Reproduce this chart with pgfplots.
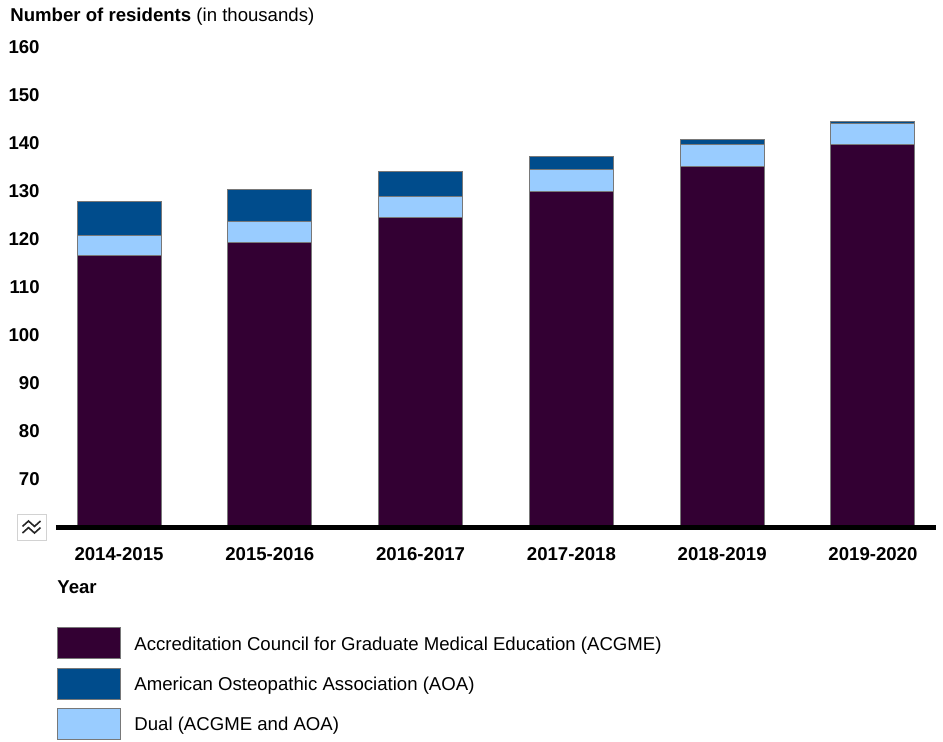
\documentclass[border=0pt]{standalone}
\usepackage{fontspec}
\setmainfont{Liberation Sans}
\usepackage{pgfplots}
\pgfplotsset{compat=1.18}
\usepackage{pgfplotstable}

\definecolor{acgme}{RGB}{51,0,51}
\definecolor{aoa}{RGB}{0,76,140}
\definecolor{dual}{RGB}{153,204,255}
\definecolor{barline}{RGB}{120,120,120}

% residents in thousands
\pgfplotstableread{
x acgme dual aoa
0 116.5 4.3 7.1
1 119.3 4.3 6.8
2 124.5 4.3 5.2
3 130.0 4.5 2.7
4 135.1 4.5 1.1
5 139.6 4.5 0.3
}\residents

\pgfplotsset{
  legbox/.style={legend image code/.code={%
    \draw[##1] (0pt,-7.75pt) rectangle (31.5pt,7.75pt);}},
}
\newcommand{\chartfont}{\fontsize{9.3}{11.2}\selectfont}

\begin{document}
\begin{tikzpicture}
\useasboundingbox (-28pt,-107pt) rectangle (443.5pt,263.5pt);
\begin{axis}[
    at={(0,0)}, anchor=south west,
    scale only axis,
    width=440pt, height=240pt,
    ybar stacked,
    bar width=42pt,
    xmin=-0.418, xmax=5.418,
    ymin=60, ymax=160,
    ytick={70,80,...,160},
    xtick=data,
    xticklabels={2014-2015,2015-2016,2016-2017,2017-2018,2018-2019,2019-2020},
    axis lines*=left,
    x axis line style={line width=2.5pt,-},
    y axis line style={draw=none},
    major tick length=0pt,
    axis on top,
    font=\chartfont,
    /pgf/number format/assume math mode=true,
    yticklabel style={font=\chartfont\bfseries, anchor=east, inner sep=0pt, xshift=-8pt},
    xticklabel style={font=\chartfont\bfseries, anchor=north, inner sep=0pt, yshift=-10pt},
    legend style={at={(0,0)}, anchor=north west, xshift=0.5pt, yshift=-50pt,
      draw=none, fill=none, inner sep=0pt, row sep=4.2pt,
      font=\chartfont,
      nodes={inner sep=0pt, text depth=0pt}},
    legend cell align=left,
    legend columns=1,
]
\addplot[forget plot, fill=acgme, draw=barline, line width=0.5pt] table[x=x, y=acgme] {\residents};
\addplot[forget plot, fill=dual, draw=barline, line width=0.5pt] table[x=x, y=dual] {\residents};
\addplot[forget plot, fill=aoa, draw=barline, line width=0.5pt] table[x=x, y=aoa] {\residents};

\addlegendimage{legbox, fill=acgme, draw=barline, line width=0.5pt}
\addlegendentry{\hspace{6.5pt}Accreditation Council for Graduate Medical Education (ACGME)}
\addlegendimage{legbox, fill=aoa, draw=barline, line width=0.5pt}
\addlegendentry{\hspace{6.5pt}American Osteopathic Association (AOA)}
\addlegendimage{legbox, fill=dual, draw=barline, line width=0.5pt}
\addlegendentry{\hspace{6.5pt}Dual (ACGME and AOA)}
\end{axis}

% titles
\node[anchor=west, inner sep=0pt, font=\chartfont] at (-23pt,255pt)
  {\textbf{Number of residents} (in thousands)};
\node[anchor=west, inner sep=0pt, font=\chartfont\bfseries] at (0.5pt,-30pt) {Year};

% axis break symbol
\draw[gray!35, line width=0.4pt, fill=white] (-19.5pt,-6.5pt) rectangle (-5pt,6.5pt);
\begin{scope}[shift={(-12.25pt,0pt)}, line width=0.8pt, black!85]
  \draw (-4.5pt,0.3pt) -- (-1.5pt,3pt) -- (1.5pt,0.3pt) -- (4.5pt,3pt);
  \draw (-4.5pt,-3pt) -- (-1.5pt,-0.3pt) -- (1.5pt,-3pt) -- (4.5pt,-0.3pt);
\end{scope}
\end{tikzpicture}
\end{document}
